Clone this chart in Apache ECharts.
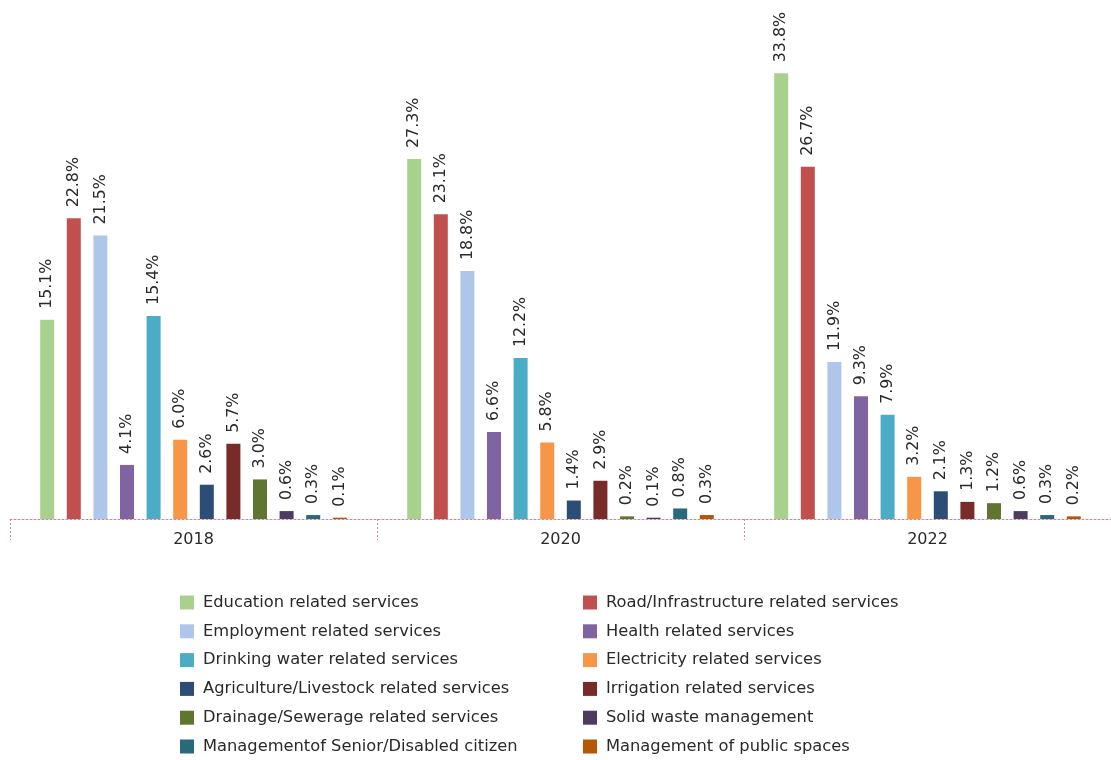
<!DOCTYPE html>
<html>
<head>
<meta charset="utf-8">
<script src="https://cdn.jsdelivr.net/npm/echarts@6/dist/echarts.min.js"></script>
<style>
  html, body { margin: 0; padding: 0; background: #fff; }
  #chart { width: 1111px; height: 760px; }
</style>
</head>
<body>
<div id="chart"></div>
<script>
// Survey years
const years = ['2018', '2020', '2022'];

// Service categories, in bar order
const services = [
  'Education related services',
  'Road/Infrastructure related services',
  'Employment related services',
  'Health related services',
  'Drinking water related services',
  'Electricity related services',
  'Agriculture/Livestock related services',
  'Irrigation related services',
  'Drainage/Sewerage related services',
  'Solid waste management',
  'Managementof Senior/Disabled citizen',
  'Management of public spaces'
];

// Share of requests (%) per year
const share2018 = [15.1, 22.8, 21.5, 4.1, 15.4, 6.0, 2.6, 5.7, 3.0, 0.6, 0.3, 0.1];
const share2020 = [27.3, 23.1, 18.8, 6.6, 12.2, 5.8, 1.4, 2.9, 0.2, 0.1, 0.8, 0.3];
const share2022 = [33.8, 26.7, 11.9, 9.3, 7.9, 3.2, 2.1, 1.3, 1.2, 0.6, 0.3, 0.2];

const colors = [
  '#a9d18e', '#c0504d', '#adc6ea', '#8064a2', '#4bacc6', '#f79646',
  '#2c4d75', '#772c2a', '#5f7530', '#4d3b62', '#276a7c', '#b65708'
];

const FONT = 'DejaVu Sans, Verdana, sans-serif';
const WEIGHT = 'normal';
const TEXT = '#2a2a2a';
const AXIS = '#c48aa6';

const series = services.map((name, i) => ({
  name: name,
  type: 'bar',
  data: [share2018[i], share2020[i], share2022[i]],
  barWidth: 14,
  barGap: '90%',
  itemStyle: { color: colors[i] },
  label: {
    show: true,
    position: 'top',
    rotate: 90,
    align: 'left',
    verticalAlign: 'middle',
    distance: 11,
    color: TEXT,
    fontFamily: FONT,
    fontWeight: WEIGHT,
    fontSize: 15.8,
    formatter: p => p.value.toFixed(1) + '%'
  }
}));

const leftNames = services.filter((_, i) => i % 2 === 0);
const rightNames = services.filter((_, i) => i % 2 === 1);

const legendBase = {
  orient: 'vertical',
  top: 594,
  height: 170,
  padding: 0,
  itemWidth: 14,
  itemHeight: 14,
  itemGap: 11.8,
  icon: 'rect',
  textStyle: { color: TEXT, fontFamily: FONT, fontWeight: WEIGHT, fontSize: 16.3, lineHeight: 17, padding: [0, 0, 0, 4] }
};

const chart = echarts.init(document.getElementById('chart'), null, { renderer: 'canvas' });
chart.setOption({
  animation: false,
  backgroundColor: '#ffffff',
  grid: { left: 10, top: 0, width: 1104, bottom: 241, containLabel: false },
  xAxis: {
    type: 'category',
    data: years,
    axisLine: { show: true, lineStyle: { color: AXIS, type: [2, 2], width: 1 } },
    axisTick: { show: true, length: 21, interval: 0, lineStyle: { color: AXIS, type: [2, 2] } },
    axisLabel: { color: TEXT, fontFamily: FONT, fontWeight: WEIGHT, fontSize: 16, margin: 13 }
  },
  yAxis: {
    type: 'value',
    min: 0,
    max: 39.35,
    show: false,
    splitLine: { show: false }
  },
  legend: [
    Object.assign({}, legendBase, { left: 180, data: leftNames }),
    Object.assign({}, legendBase, { left: 583, data: rightNames })
  ],
  series: series
});
</script>
</body>
</html>
